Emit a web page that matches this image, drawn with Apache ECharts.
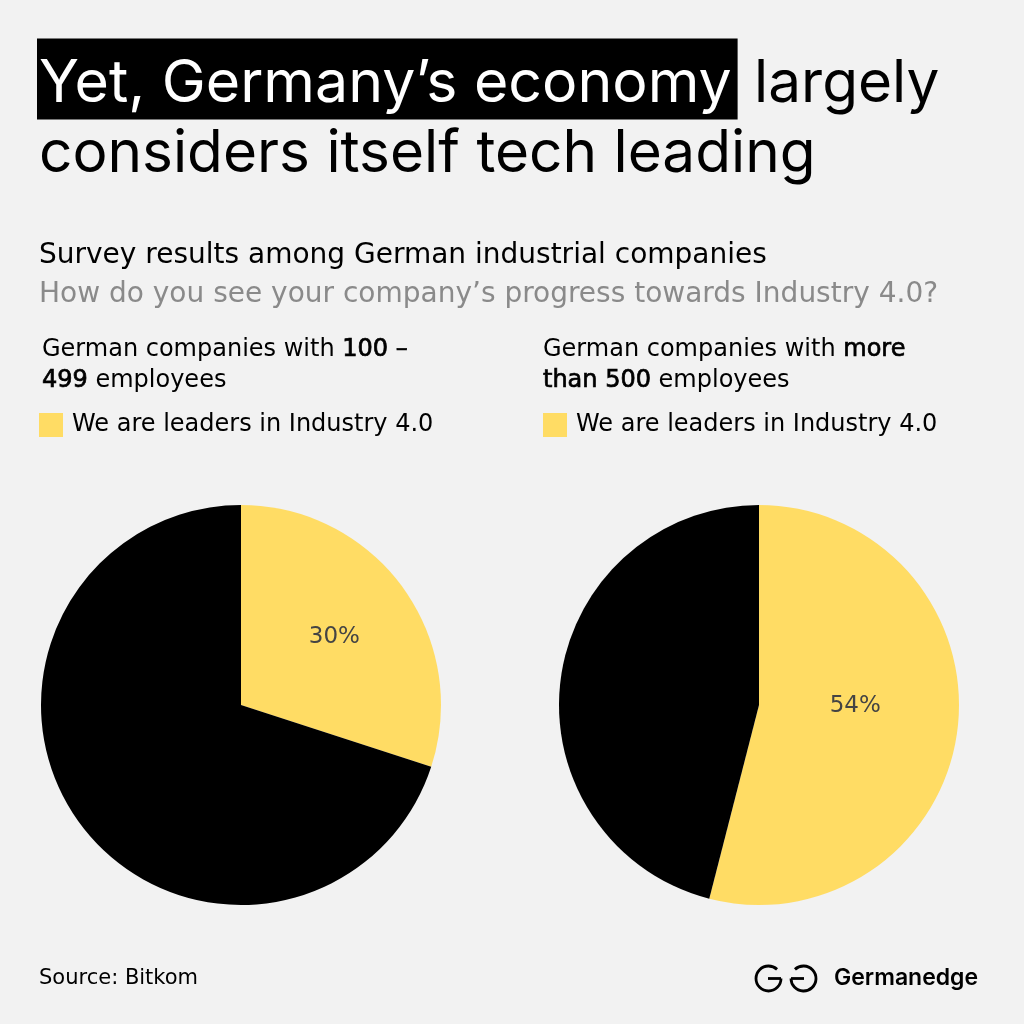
<!DOCTYPE html>
<html>
<head>
<meta charset="utf-8">
<script src="https://cdn.jsdelivr.net/npm/echarts@6/dist/echarts.min.js"></script>
<style>
html,body{margin:0;padding:0;background:#f2f2f2;}
#chart{width:1024px;height:1024px;}
</style>
</head>
<body>
<div id="chart"></div>
<script>
const sliceNames = ['We are leaders in Industry 4.0', 'Others'];
const smallCompanies = [30, 70];   // 100 – 499 employees
const largeCompanies = [54, 46];   // more than 500 employees
const legendLabel = 'We are leaders in Industry 4.0';

const YELLOW = '#FFDC64';
const TFONT = 'Inter, "Noto Sans", sans-serif';
const BFONT = '"DejaVu Sans", sans-serif';

const chart = echarts.init(document.getElementById('chart'), null, {renderer: 'canvas'});

function pieData(values) {
  return values.map((v, i) => ({name: sliceNames[i], value: v}));
}

function pieSeries(values, cx, offset) {
  return {
    type: 'pie',
    center: [cx, 705],
    radius: [0, 200],
    startAngle: 90,
    clockwise: true,
    silent: true,
    emphasis: {disabled: true},
    itemStyle: {borderWidth: 0},
    color: [YELLOW, '#000000'],
    label: {
      show: true,
      position: 'inside',
      offset: offset,
      color: '#444444',
      fontFamily: BFONT,
      fontSize: 23,
      formatter: p => p.dataIndex === 0 ? p.value + '%' : ''
    },
    labelLine: {show: false},
    data: pieData(values)
  };
}

const semi = {fontSize: 24, fontFamily: BFONT, fontWeight: 'normal', lineHeight: 31, color: '#000',
              textBorderColor: '#000', textBorderWidth: 0.7};

function legendAt(left) {
  return {
    left: left, top: 413, padding: 0, orient: 'horizontal',
    icon: 'rect', itemWidth: 24, itemHeight: 24, itemGap: 10,
    selectedMode: false,
    data: [legendLabel],
    textStyle: {color: '#000', fontSize: 24, fontFamily: BFONT, padding: [0, 0, 0, 4]}
  };
}

const option = {
  backgroundColor: '#f2f2f2',
  animation: false,
  title: [
    {
      left: 37, top: 48, padding: 0,
      text: '{hl|Yet, Germany’s economy}{n| largely}',
      textStyle: {
        fontWeight: 'normal',
        rich: {
          hl: {color: '#ffffff', backgroundColor: '#000000', fontSize: 59, fontWeight: 'normal', fontFamily: TFONT, lineHeight: 62, padding: [16, 6, 6, 2]},
          n: {color: '#000000', fontSize: 58.5, fontWeight: 'normal', fontFamily: TFONT, lineHeight: 62, padding: [16, 0, 6, 0]}
        }
      }
    },
    {
      left: 39, top: 125, padding: 0,
      text: 'considers itself tech leading',
      textStyle: {color: '#000', fontSize: 58.5, fontFamily: TFONT, fontWeight: 'normal'}
    },
    {
      left: 39, top: 242, padding: 0,
      text: 'Survey results among German industrial companies',
      textStyle: {color: '#000', fontSize: 28, fontFamily: BFONT, fontWeight: 'normal'}
    },
    {
      left: 39, top: 281, padding: 0,
      text: 'How do you see your company’s progress towards Industry 4.0?',
      textStyle: {color: '#8a8a8a', fontSize: 28, fontFamily: BFONT, fontWeight: 'normal'}
    },
    {
      left: 42, top: 334, padding: 0,
      text: 'German companies with {b|100 –}\n{b|499} employees',
      textStyle: {
        color: '#000', fontSize: 24, fontFamily: BFONT, fontWeight: 'normal', lineHeight: 31,
        rich: {b: semi}
      }
    },
    {
      left: 543, top: 334, padding: 0,
      text: 'German companies with {b|more}\n{b|than 500} employees',
      textStyle: {
        color: '#000', fontSize: 24, fontFamily: BFONT, fontWeight: 'normal', lineHeight: 31,
        rich: {b: semi}
      }
    },
    {
      left: 39, top: 968, padding: 0,
      text: 'Source: Bitkom',
      textStyle: {color: '#000', fontSize: 21, fontFamily: BFONT, fontWeight: 'normal'}
    },
    {
      left: 834, top: 967, padding: 0,
      text: 'Germanedge',
      textStyle: {color: '#000', fontSize: 23, fontFamily: TFONT, fontWeight: 600}
    }
  ],
  legend: [legendAt(39), legendAt(543)],
  graphic: [
    {type: 'arc', shape: {cx: 768.5, cy: 978.5, r: 12.5, startAngle: 0, endAngle: Math.PI * 1.74, clockwise: true},
     style: {stroke: '#000', lineWidth: 2.8, fill: null}},
    {type: 'line', shape: {x1: 768, y1: 978.5, x2: 781, y2: 978.5}, style: {stroke: '#000', lineWidth: 2.8}},
    {type: 'arc', shape: {cx: 803.5, cy: 978.5, r: 12.5, startAngle: Math.PI * 1.26, endAngle: Math.PI * 3, clockwise: true},
     style: {stroke: '#000', lineWidth: 2.8, fill: null}},
    {type: 'line', shape: {x1: 791, y1: 978.5, x2: 804, y2: 978.5}, style: {stroke: '#000', lineWidth: 2.8}}
  ],
  series: [
    pieSeries(smallCompanies, 241, [10, -7]),
    pieSeries(largeCompanies, 759, [-6, -12])
  ]
};

chart.setOption(option);
</script>
</body>
</html>
